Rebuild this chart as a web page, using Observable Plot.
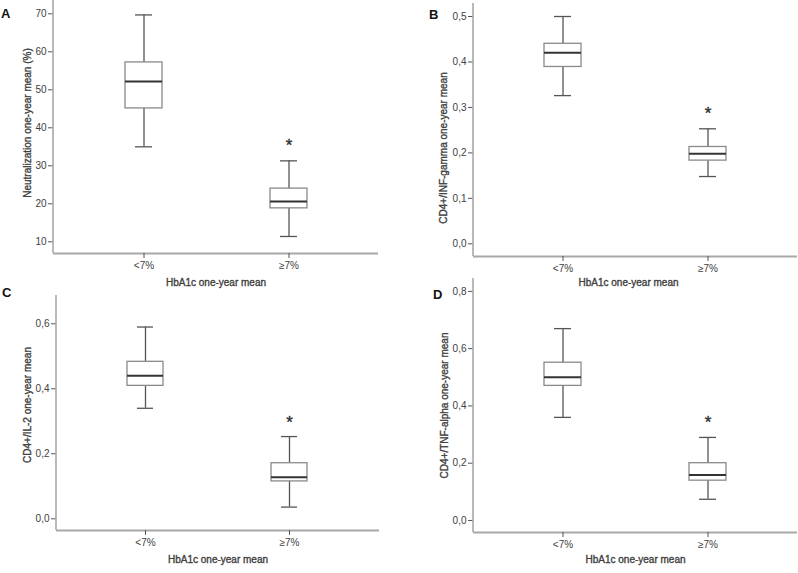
<!DOCTYPE html>
<html><head><meta charset="utf-8">
<script src="https://cdn.jsdelivr.net/npm/d3@7"></script>
<script src="https://cdn.jsdelivr.net/npm/@observablehq/plot@0.6"></script>
<style>
body{margin:0;background:#fff;}
#wrap{position:relative;width:798px;height:573px;overflow:hidden;font-family:"Liberation Sans",Arial,sans-serif;}
.panel{position:absolute;}
.letter{position:absolute;font-weight:bold;font-size:13px;line-height:1;color:#111;}
</style></head><body><div id="wrap"></div>
<script>
// Categories
const groups = ["<7%", "≥7%"];
const xTitle = "HbA1c one-year mean";

// Panel A: Neutralization one-year mean (%)
const aLow    = [35.0, 11.4];
const aQ1     = [45.1, 18.8];
const aMedian = [52.2, 20.6];
const aQ3     = [57.2, 24.0];
const aHigh   = [69.7, 31.3];
const aStar   = [null, 36.5];
const aTicks  = [10, 20, 30, 40, 50, 60, 70];

// Panel B: CD4+/INF-gamma one-year mean
const bLow    = [0.326, 0.148];
const bQ1     = [0.389, 0.183];
const bMedian = [0.420, 0.198];
const bQ3     = [0.440, 0.213];
const bHigh   = [0.500, 0.253];
const bStar   = [null, 0.297];
const bTicks  = [0, 0.1, 0.2, 0.3, 0.4, 0.5];

// Panel C: CD4+/IL-2 one-year mean
const cLow    = [0.340, 0.036];
const cQ1     = [0.409, 0.115];
const cMedian = [0.440, 0.128];
const cQ3     = [0.483, 0.171];
const cHigh   = [0.590, 0.253];
const cStar   = [null, 0.311];
const cTicks  = [0, 0.2, 0.4, 0.6];

// Panel D: CD4+/TNF-alpha one-year mean
const dLow    = [0.360, 0.074];
const dQ1     = [0.470, 0.139];
const dMedian = [0.500, 0.159];
const dQ3     = [0.551, 0.200];
const dHigh   = [0.670, 0.290];
const dStar   = [null, 0.358];
const dTicks  = [0, 0.2, 0.4, 0.6, 0.8];

const commaFmt = d => d3.format(".1f")(d).replace(".", ",");
const intFmt = d => d3.format("d")(d);

function panel(cfg) {
  const rows = groups.map((g, i) => ({
    g, low: cfg.low[i], q1: cfg.q1[i], med: cfg.med[i], q3: cfg.q3[i], high: cfg.high[i], star: cfg.star[i]
  }));
  const {width, height, mt, mb, ml, mr} = cfg;
  const textStyle = {fontSize: 10, fill: "#404040", stroke: "#404040", strokeWidth: 0.35};
  const svg = Plot.plot({
    width, height,
    marginTop: mt, marginBottom: mb, marginLeft: ml, marginRight: mr,
    style: {fontFamily: "Liberation Sans, Arial, sans-serif", fontSize: "10px", color: "#404040", background: "transparent", overflow: "visible"},
    x: {type: "band", domain: groups, paddingInner: 0.747, paddingOuter: 0.488, align: 0.5},
    y: {domain: cfg.domain},
    marks: [
      Plot.ruleY([cfg.domain[0]], {stroke: "#a8a8a8", strokeWidth: 2}),
      Plot.ruleX(rows, {x: "g", y1: "low", y2: "high", stroke: "#555", strokeWidth: 1.3}),
      Plot.tickY(rows, {x: "g", y: "low", insetLeft: 10, insetRight: 10, stroke: "#555", strokeWidth: 1.3}),
      Plot.tickY(rows, {x: "g", y: "high", insetLeft: 10, insetRight: 10, stroke: "#555", strokeWidth: 1.3}),
      Plot.barY(rows, {x: "g", y1: "q1", y2: "q3", fill: "white", stroke: "#8a8a8a", strokeWidth: 1.3}),
      Plot.tickY(rows, {x: "g", y: "med", stroke: "#333", strokeWidth: 2}),
      Plot.text(rows.filter(d => d.star != null), {x: "g", y: "star", text: () => "*", fontSize: 17, dy: 4.5, fill: "#333", stroke: "#333", strokeWidth: 0.4}),
      Plot.axisY({ticks: cfg.ticks, tickFormat: cfg.fmt, tickSize: 5, tickPadding: 2, label: null, stroke: "#555", fill: "#404040", fontSize: 10}),
      Plot.axisX({tickSize: 5, tickPadding: 3, label: null, stroke: "#555", fill: "#404040", fontSize: 10}),
      Plot.text([cfg.yTitle], {frameAnchor: "left", textAnchor: "middle", rotate: -90, lineAnchor: "top", dx: -cfg.yOff, dy: cfg.yShift, ...textStyle}),
      Plot.text([xTitle], {frameAnchor: "bottom", textAnchor: "middle", lineAnchor: "middle", dy: cfg.xOff, dx: cfg.xShift || 0, ...textStyle})
    ]
  });
  d3.select(svg).append("line")
    .attr("x1", ml).attr("x2", ml).attr("y1", mt).attr("y2", height - mb)
    .attr("stroke", "#a8a8a8").attr("stroke-width", 1.6);
  svg.classList.add("panel");
  svg.style.left = cfg.left + "px";
  svg.style.top = cfg.top + "px";
  svg.style.position = "absolute";
  return svg;
}

const wrap = document.getElementById("wrap");
wrap.append(panel({low: aLow, q1: aQ1, med: aMedian, q3: aQ3, high: aHigh, star: aStar, ticks: aTicks, fmt: intFmt,
  yTitle: "Neutralization one-year mean (%)", domain: [6.92, 73.5],
  left: 0, top: 0, width: 380, height: 290, mt: 0, mb: 37, ml: 53, mr: 2, yOff: 30, yShift: -4, xOff: 29}));
wrap.append(panel({low: bLow, q1: bQ1, med: bMedian, q3: bQ3, high: bHigh, star: bStar, ticks: bTicks, fmt: commaFmt,
  yTitle: "CD4+/INF-gamma one-year mean", domain: [-0.0279, 0.5286],
  left: 400, top: 0, width: 398, height: 290, mt: 3, mb: 34, ml: 73, mr: 1, yOff: 34, yShift: 18, xOff: 26, xShift: -7}));
wrap.append(panel({low: cLow, q1: cQ1, med: cMedian, q3: cQ3, high: cHigh, star: cStar, ticks: cTicks, fmt: commaFmt,
  yTitle: "CD4+/IL-2 one-year mean", domain: [-0.036, 0.687],
  left: 0, top: 280, width: 380, height: 293, mt: 15, mb: 43, ml: 56, mr: 1, yOff: 33, yShift: -8, xOff: 29}));
wrap.append(panel({low: dLow, q1: dQ1, med: dMedian, q3: dQ3, high: dHigh, star: dStar, ticks: dTicks, fmt: commaFmt,
  yTitle: "CD4+/TNF-alpha one-year mean", domain: [-0.042, 0.845],
  left: 400, top: 275, width: 398, height: 298, mt: 3, mb: 41, ml: 73, mr: 1, yOff: 33, yShift: 0, xOff: 27}));

const letters = [["A", 1, 7], ["B", 429, 8], ["C", 2, 286], ["D", 433, 288]];
for (const [t, x, y] of letters) {
  const el = document.createElement("div");
  el.className = "letter";
  el.textContent = t;
  el.style.left = x + "px";
  el.style.top = y + "px";
  wrap.append(el);
}
</script></body></html>
